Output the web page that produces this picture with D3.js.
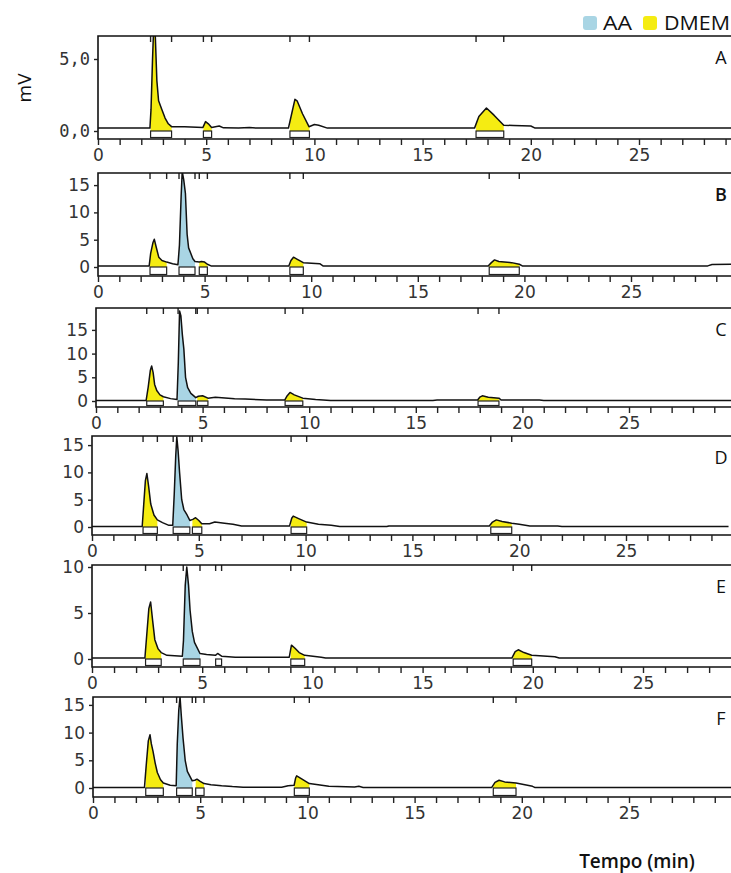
<!DOCTYPE html>
<html>
<head>
<meta charset="utf-8">
<script src="https://cdn.jsdelivr.net/npm/d3@7"></script>
<style>
  body { margin: 0; background: #fff; }
  svg { display: block; }
</style>
</head>
<body>
<script>
// chromatogram traces, [time (min), signal (mV)]
var traceA = [[0,0.2],[2.4,0.2],[2.45,1.5],[2.52,5],[2.58,7.5],[2.65,6.5],[2.72,3.5],[2.8,2.1],[2.95,1.5],[3.1,0.9],[3.25,0.5],[3.4,0.3],[4.0,0.3],[4.85,0.25],[4.97,0.65],[5.1,0.5],[5.25,0.25],[5.6,0.35],[5.8,0.22],[6.5,0.2],[7.0,0.25],[7.3,0.2],[8.8,0.2],[8.95,1.2],[9.1,2.2],[9.2,2.1],[9.45,1.2],[9.75,0.3],[10.0,0.45],[10.2,0.4],[10.6,0.2],[17.4,0.2],[17.6,1.0],[17.95,1.6],[18.3,1.1],[18.75,0.4],[19.2,0.38],[20.0,0.35],[20.2,0.2],[29.5,0.2]];
var traceB = [[0,0.2],[2.4,0.2],[2.47,2.5],[2.58,4.5],[2.64,5.1],[2.72,3.8],[2.85,1.8],[3.0,1.2],[3.22,0.9],[3.5,0.6],[3.75,0.4],[3.82,4],[3.9,13],[3.95,17.5],[4.02,16],[4.1,13.5],[4.18,6],[4.25,3.5],[4.35,2.5],[4.45,1.5],[4.55,1.0],[4.75,0.9],[4.85,1.0],[5.0,0.9],[5.13,0.5],[5.3,0.2],[8.95,0.2],[9.05,1.2],[9.17,1.8],[9.35,1.4],[9.63,0.8],[10.4,0.6],[10.55,0.2],[18.3,0.2],[18.45,0.8],[18.6,1.3],[18.8,1.0],[19.4,0.8],[19.76,0.5],[19.9,0.2],[28.6,0.2],[28.8,0.45],[29.8,0.5]];
var traceC = [[0,0.1],[2.35,0.1],[2.45,3],[2.55,6.5],[2.61,7.4],[2.68,6],[2.75,3.5],[2.85,2.2],[3.0,1.3],[3.16,0.9],[3.5,0.5],[3.8,0.3],[3.86,8],[3.92,19],[3.98,18],[4.05,14],[4.12,11],[4.2,5],[4.3,2.8],[4.45,1.6],[4.68,0.7],[4.8,1.0],[5.0,1.1],[5.25,0.6],[5.6,0.8],[5.9,0.7],[6.5,0.5],[7.0,0.4],[8.0,0.2],[8.85,0.2],[8.95,1.0],[9.1,1.8],[9.3,1.3],[9.7,0.6],[10.3,0.3],[11,0.1],[15.8,0.1],[16.0,0.2],[17.9,0.2],[18.0,0.8],[18.12,1.1],[18.4,0.8],[18.9,0.6],[19.0,0.2],[20.8,0.2],[21.0,0.1],[29.8,0.1]];
var traceD = [[0,0.1],[2.35,0.1],[2.42,4],[2.5,8.5],[2.57,9.8],[2.65,7.5],[2.75,4.2],[2.9,2.2],[3.06,1.3],[3.3,0.8],[3.6,0.3],[3.78,0.3],[3.85,6],[3.92,13],[3.97,16.5],[4.03,14],[4.1,10],[4.2,5],[4.3,3.2],[4.45,2.2],[4.58,1.2],[4.72,1.4],[4.85,1.7],[5.0,1.2],[5.14,0.6],[5.5,0.6],[5.75,0.9],[6.2,0.7],[6.6,0.5],[7.0,0.2],[9.25,0.2],[9.35,1.6],[9.42,2.0],[9.7,1.5],[10.05,0.9],[10.6,0.5],[11.2,0.3],[11.6,0.1],[13.8,0.1],[13.9,0.2],[16.4,0.2],[18.6,0.2],[18.75,0.9],[18.93,1.3],[19.2,1.0],[19.65,0.7],[20.0,0.5],[20.5,0.2],[21.8,0.2],[22.0,0.1],[29.8,0.1]];
var traceE = [[0,0.1],[2.4,0.1],[2.48,2.5],[2.58,5.5],[2.66,6.2],[2.75,4.2],[2.85,2.1],[3.0,1.1],[3.14,0.7],[3.4,0.4],[4.1,0.3],[4.15,2],[4.23,8],[4.3,10],[4.38,8],[4.45,5.3],[4.55,3],[4.65,1.8],[4.9,0.6],[5.2,0.5],[5.6,0.4],[5.7,0.6],[5.88,0.3],[6.5,0.2],[8.95,0.2],[9.05,1.5],[9.2,1.2],[9.4,0.7],[9.65,0.4],[10.4,0.2],[10.6,0.1],[19.05,0.1],[19.2,0.8],[19.34,1.0],[19.6,0.7],[19.95,0.4],[21.0,0.25],[21.2,0.1],[29,0.1]];
var traceF = [[0,0.1],[2.4,0.1],[2.48,4],[2.58,8.5],[2.66,9.6],[2.72,8],[2.8,6.6],[2.9,4.5],[3.0,2.8],[3.15,1.5],[3.28,0.9],[3.6,0.5],[3.88,0.4],[3.93,8],[4.0,14],[4.06,16.4],[4.12,13],[4.2,9],[4.3,5],[4.4,3],[4.63,1.3],[4.75,1.4],[4.85,1.6],[5.0,1.2],[5.18,0.8],[5.5,0.6],[6.0,0.4],[6.5,0.25],[7.0,0.15],[8.8,0.15],[9.1,0.4],[9.38,0.5],[9.45,1.8],[9.5,2.2],[9.75,1.6],[10.09,0.8],[11.0,0.3],[12.2,0.2],[12.4,0.3],[12.6,0.1],[18.6,0.1],[18.75,1.0],[18.94,1.4],[19.2,1.1],[19.73,0.9],[20.5,0.3],[20.6,0.1],[29.8,0.1]];

// integrated peaks: [start, end, compound] (AA, DMEM, or none)
var peaksA = [[2.43,3.4,"DMEM"],[4.87,5.25,"DMEM"],[8.87,9.77,"DMEM"],[17.47,18.75,"DMEM"]];
var peaksB = [[2.44,3.22,"DMEM"],[3.8,4.55,"AA"],[4.75,5.13,"DMEM"],[9.0,9.63,"DMEM"],[18.35,19.76,"DMEM"]];
var peaksC = [[2.38,3.16,"DMEM"],[3.85,4.68,"AA"],[4.75,5.25,"DMEM"],[8.87,9.7,"DMEM"],[17.92,18.9,"DMEM"]];
var peaksD = [[2.39,3.06,"DMEM"],[3.8,4.58,"AA"],[4.7,5.14,"DMEM"],[9.32,10.05,"DMEM"],[18.67,19.65,"DMEM"]];
var peaksE = [[2.43,3.14,"DMEM"],[4.14,4.9,"AA"],[5.61,5.88,""],[9.02,9.65,"DMEM"],[19.11,19.95,"DMEM"]];
var peaksF = [[2.46,3.28,"DMEM"],[3.9,4.63,"AA"],[4.79,5.18,"DMEM"],[9.39,10.09,"DMEM"],[18.67,19.73,"DMEM"]];

var panelNames = ["A", "B", "C", "D", "E", "F"];
var yTicksA = [0, 5];
var yTicksB = [0, 5, 10, 15];
var yTicksE = [0, 5, 10];
var xLabels = [0, 5, 10, 15, 20, 25];
var legendItems = ["AA", "DMEM"];

var colors = { AA: "#a9d5e4", DMEM: "#f5ec12" };

// pixel layout of each panel (frame top/bottom, x of 0 and 25 min, y of 0 and 5 mV)
var layout = [
    { top: 36,  bottom: 139, x0: 98, x25: 639, y0: 131, y5: 59 },
    { top: 173, bottom: 276, x0: 98, x25: 631, y0: 267, y5: 239.7 },
    { top: 308, bottom: 407, x0: 96, x25: 629, y0: 401, y5: 377.3 },
    { top: 436, bottom: 535, x0: 92, x25: 626, y0: 527, y5: 499.7 },
    { top: 565, bottom: 667, x0: 92, x25: 643, y0: 659, y5: 613 },
    { top: 697, bottom: 797, x0: 93, x25: 629, y0: 788, y5: 760.3 }
];
var traces = [traceA, traceB, traceC, traceD, traceE, traceF];
var peaks = [peaksA, peaksB, peaksC, peaksD, peaksE, peaksF];
var yTicks = [yTicksA, yTicksB, yTicksB, yTicksB, yTicksE, yTicksB];

var width = 731, height = 873, right = 731;

var svg = d3.select("body").append("svg")
    .attr("width", width)
    .attr("height", height)
    .style("font-family", "'DejaVu Sans', sans-serif");

// linear value of a trace at time t (for the edges of shaded peaks)
function valueAt(trace, t) {
    var i = d3.bisector(d => d[0]).left(trace, t);
    if (i <= 0) return trace[0][1];
    if (i >= trace.length) return trace[trace.length - 1][1];
    var a = trace[i - 1], b = trace[i];
    return a[1] + (b[1] - a[1]) * (t - a[0]) / (b[0] - a[0]);
}

layout.forEach(function(L, k) {
    var tMax = 25 * (right - L.x0) / (L.x25 - L.x0);
    var x = d3.scaleLinear().domain([0, tMax]).range([L.x0, right]);
    var y = d3.scaleLinear().domain([0, 5]).range([L.y0, L.y5]);
    var g = svg.append("g");

    g.append("clipPath").attr("id", "clip" + k)
        .append("rect")
        .attr("x", L.x0).attr("y", L.top)
        .attr("width", right - L.x0).attr("height", L.bottom - L.top);

    var plot = g.append("g").attr("clip-path", "url(#clip" + k + ")");

    // shaded peak areas
    var area = d3.area().x(d => x(d[0])).y0(y(0)).y1(d => y(d[1]));
    peaks[k].forEach(function(p) {
        if (!colors[p[2]]) return;
        var pts = traces[k].filter(d => d[0] > p[0] && d[0] < p[1]);
        pts = [[p[0], valueAt(traces[k], p[0])]].concat(pts, [[p[1], valueAt(traces[k], p[1])]]);
        plot.append("path")
            .attr("d", area(pts))
            .attr("fill", colors[p[2]]);
    });

    // integration boxes under the baseline
    plot.selectAll(".box")
        .data(peaks[k])
        .enter()
        .append("rect")
        .attr("class", "box")
        .attr("x", d => x(d[0]))
        .attr("y", y(0))
        .attr("width", d => x(d[1]) - x(d[0]))
        .attr("height", L.bottom - 1.5 - y(0))
        .attr("fill", "#fff")
        .attr("stroke", "#222")
        .attr("stroke-width", 1.2);

    // signal
    plot.append("path")
        .datum(traces[k])
        .attr("d", d3.line().x(d => x(d[0])).y(d => y(d[1])))
        .attr("fill", "none")
        .attr("stroke", "#111")
        .attr("stroke-width", 1.5)
        .attr("stroke-linejoin", "round");

    // peak markers on the top frame
    var marks = [];
    peaks[k].forEach(p => { marks.push(p[0]); marks.push(p[1]); });
    g.selectAll(".mark")
        .data(marks)
        .enter()
        .append("line")
        .attr("x1", d => x(d)).attr("x2", d => x(d))
        .attr("y1", L.top).attr("y2", L.top + 6)
        .attr("stroke", "#222")
        .attr("stroke-width", 1.4);

    // frame
    g.append("path")
        .attr("d", "M" + right + "," + L.top + "H" + L.x0 + "V" + L.bottom + "H" + right)
        .attr("fill", "none")
        .attr("stroke", "#111")
        .attr("stroke-width", 1.6);

    // x axis
    var xAxis = d3.axisBottom(x)
        .tickValues(d3.range(0, Math.floor(tMax) + 1))
        .tickSize(6)
        .tickFormat(d => xLabels.indexOf(d) >= 0 ? d : "");
    var gx = g.append("g")
        .attr("transform", "translate(0," + L.bottom + ")")
        .call(xAxis);
    gx.select(".domain").remove();
    gx.selectAll(".tick line").attr("stroke", "#222").attr("stroke-width", 1.4);
    gx.selectAll(".tick text")
        .attr("font-size", 17)
        .attr("fill", "#333")
        .attr("font-family", "'DejaVu Sans', sans-serif")
        .attr("y", 10);

    // y axis
    var yAxis = d3.axisLeft(y)
        .tickValues(yTicks[k])
        .tickSize(4)
        .tickFormat(d => k === 0 ? d3.format(".1f")(d).replace(".", ",") : d);
    var gy = g.append("g")
        .attr("transform", "translate(" + L.x0 + ",0)")
        .call(yAxis);
    gy.select(".domain").remove();
    gy.selectAll(".tick line").attr("stroke", "#222").attr("stroke-width", 1.4);
    gy.selectAll(".tick text")
        .attr("font-size", 17)
        .attr("fill", "#333")
        .attr("font-family", k === 0 ? "'DejaVu Sans Mono', monospace" : "'DejaVu Sans', sans-serif")
        .attr("x", -8);

    // panel letter
    g.append("text")
        .attr("x", 721)
        .attr("y", L.top + 22)
        .attr("text-anchor", "middle")
        .attr("dy", "0.35em")
        .attr("font-family", "'Open Sans', sans-serif")
        .attr("font-size", 18)
        .attr("font-weight", k === 1 ? 600 : 400)
        .attr("fill", "#111")
        .text(panelNames[k]);
});

// y title
svg.append("text")
    .attr("transform", "translate(24,88) rotate(-90)")
    .attr("text-anchor", "middle")
    .attr("dy", "0.35em")
    .attr("font-family", "'Open Sans', sans-serif")
    .attr("font-size", 19)
    .attr("fill", "#111")
    .text("mV");

// x title
svg.append("text")
    .attr("x", 637)
    .attr("y", 868)
    .attr("text-anchor", "middle")
    .attr("font-family", "'Open Sans', sans-serif")
    .attr("font-size", 19)
    .attr("font-weight", 600)
    .attr("fill", "#111")
    .text("Tempo (min)");

// legend
var legendX = [583, 643];
var legendW = [29, 66];
var legend = svg.selectAll(".legend")
    .data(legendItems)
    .enter()
    .append("g")
    .attr("class", "legend")
    .attr("transform", (d, i) => "translate(" + legendX[i] + ",16)");
legend.append("rect")
    .attr("width", 14).attr("height", 14)
    .attr("rx", 3)
    .attr("fill", d => colors[d]);
legend.append("text")
    .attr("x", d => d === "AA" ? 20 : 21)
    .attr("y", 7)
    .attr("dy", "0.35em")
    .attr("font-family", "'Open Sans', sans-serif")
    .attr("font-size", 20)
    .attr("textLength", (d, i) => legendW[i])
    .attr("lengthAdjust", "spacingAndGlyphs")
    .attr("fill", "#111")
    .text(d => d);
</script>
</body>
</html>
